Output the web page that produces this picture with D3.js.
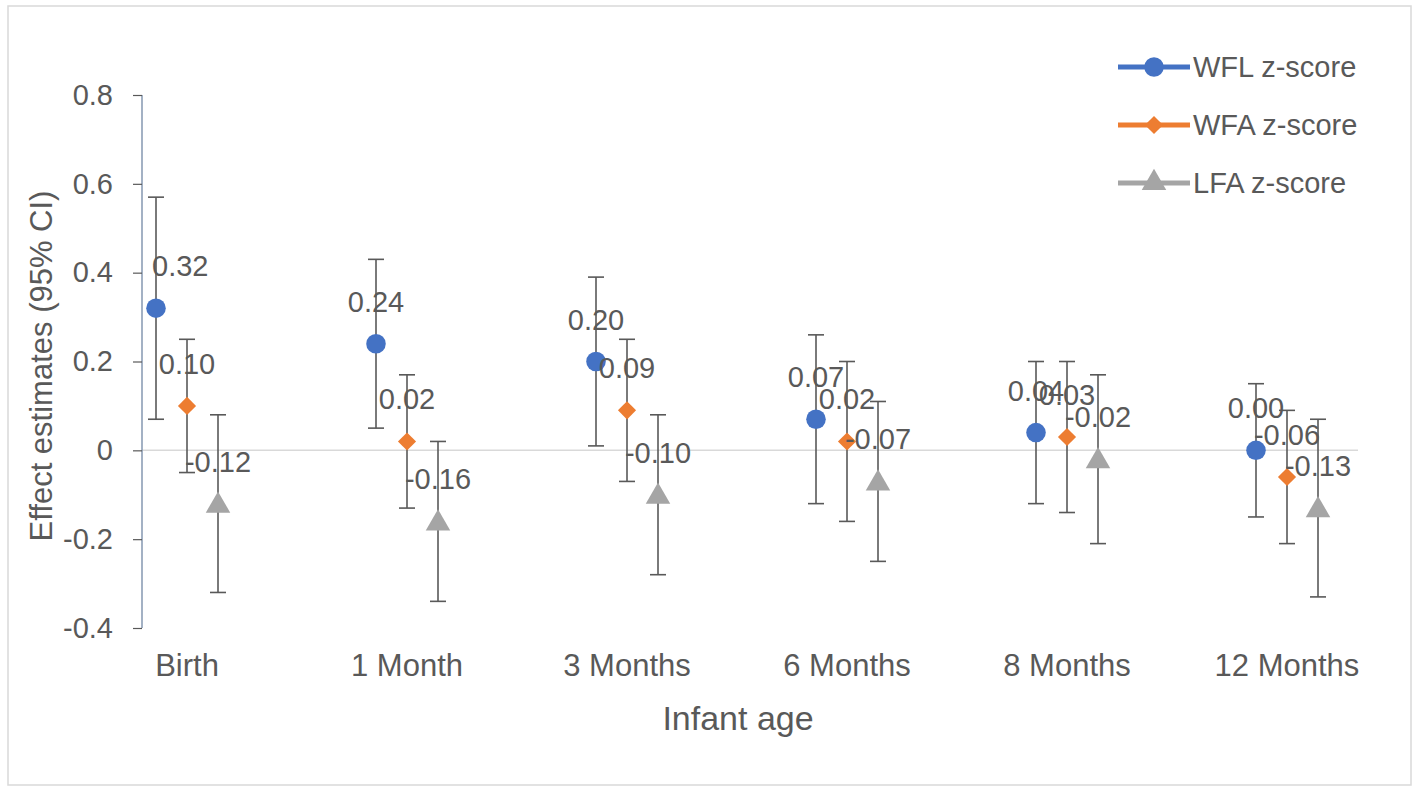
<!DOCTYPE html>
<html>
<head>
<meta charset="utf-8">
<script src="https://cdn.jsdelivr.net/npm/d3@7"></script>
<style>
  body { margin: 0; background: #fff; }
  text { font-family: "Liberation Sans", Arial, sans-serif; }
</style>
</head>
<body>
<script>
// datos
var edades = ["Birth", "1 Month", "3 Months", "6 Months", "8 Months", "12 Months"];
var series = ["WFL z-score", "WFA z-score", "LFA z-score"];

var wflValor = [0.32, 0.24, 0.20, 0.07, 0.04, 0.00];
var wflBajo  = [0.07, 0.05, 0.01, -0.12, -0.12, -0.15];
var wflAlto  = [0.57, 0.43, 0.39, 0.26, 0.20, 0.15];

var wfaValor = [0.10, 0.02, 0.09, 0.02, 0.03, -0.06];
var wfaBajo  = [-0.05, -0.13, -0.07, -0.16, -0.14, -0.21];
var wfaAlto  = [0.25, 0.17, 0.25, 0.20, 0.20, 0.09];

var lfaValor = [-0.12, -0.16, -0.10, -0.07, -0.02, -0.13];
var lfaBajo  = [-0.32, -0.34, -0.28, -0.25, -0.21, -0.33];
var lfaAlto  = [0.08, 0.02, 0.08, 0.11, 0.17, 0.07];

var ticksY = [-0.4, -0.2, 0, 0.2, 0.4, 0.6, 0.8];

var colores = ["#4472C4", "#ED7D31", "#A5A5A5"];
var desplaz = [-31, 0, 31];
var gris = "#595959";

var ancho = 1420, altura = 793;
var ejeXpos = 142, finX = 1358;

var svg = d3.select("body").append("svg")
    .attr("width", ancho)
    .attr("height", altura);

// marco exterior
svg.append("rect")
    .attr("x", 8).attr("y", 6)
    .attr("width", 1403).attr("height", 779)
    .attr("fill", "#fff")
    .attr("stroke", "#D9D9D9")
    .attr("stroke-width", 1.5);

var escalaX = d3.scalePoint().domain(edades).range([187, 1287]);
var escalaY = d3.scaleLinear().domain([-0.4, 0.8]).range([628, 95]);

function numero(d, f) {
    return d3.format(f)(d).replace("\u2212", "-");
}

// linea del cero
svg.append("line")
    .attr("x1", ejeXpos).attr("x2", finX)
    .attr("y1", escalaY(0)).attr("y2", escalaY(0))
    .attr("stroke", "#D9D9D9").attr("stroke-width", 1.5);

// eje Y
var ejeY = svg.append("g")
    .attr("transform", "translate(" + ejeXpos + ",0)")
    .call(d3.axisLeft(escalaY).tickValues(ticksY).tickSize(9).tickPadding(20)
        .tickFormat(function (d) { return d === 0 ? "0" : numero(d, ".1f"); }));
ejeY.select(".domain").attr("stroke", "#8497B0").attr("stroke-width", 1.5)
    .attr("d", "M0," + escalaY(0.8) + "V" + escalaY(-0.4));
ejeY.selectAll(".tick line").attr("stroke", gris).attr("stroke-width", 1.2);
ejeY.selectAll(".tick text").attr("fill", gris).style("font-size", "29px");

// etiquetas del eje X
svg.selectAll(".catlab").data(edades).enter().append("text")
    .attr("x", function (d) { return escalaX(d); })
    .attr("y", 676)
    .attr("text-anchor", "middle")
    .attr("fill", gris)
    .style("font-size", "31px")
    .text(function (d) { return d; });

// titulos
svg.append("text")
    .attr("x", 738).attr("y", 730)
    .attr("text-anchor", "middle")
    .attr("fill", gris)
    .style("font-size", "34px")
    .text("Infant age");

svg.append("text")
    .attr("transform", "translate(52,366) rotate(-90)")
    .attr("text-anchor", "middle")
    .attr("fill", gris)
    .style("font-size", "31px")
    .text("Effect estimates (95% CI)");

var datos = [
    { valor: wflValor, bajo: wflBajo, alto: wflAlto },
    { valor: wfaValor, bajo: wfaBajo, alto: wfaAlto },
    { valor: lfaValor, bajo: lfaBajo, alto: lfaAlto }
];

var simbolos = [d3.symbolCircle, d3.symbolDiamond2, d3.symbolTriangle];
var tamanos = [300, 210, 260];

function marcador(s) {
    return d3.symbol().type(simbolos[s]).size(tamanos[s])();
}

datos.forEach(function (serie, s) {
    var g = svg.append("g");
    var puntos = edades.map(function (e, i) {
        return { x: escalaX(e) + desplaz[s], v: serie.valor[i], lo: serie.bajo[i], hi: serie.alto[i] };
    });

    // barras de error
    var eb = g.selectAll(".eb").data(puntos).enter().append("g");
    eb.append("line")
        .attr("x1", function (d) { return d.x; }).attr("x2", function (d) { return d.x; })
        .attr("y1", function (d) { return escalaY(d.lo); })
        .attr("y2", function (d) { return escalaY(d.hi); })
        .attr("stroke", gris).attr("stroke-width", 1.6);
    ["lo", "hi"].forEach(function (k) {
        eb.append("line")
            .attr("x1", function (d) { return d.x - 8; }).attr("x2", function (d) { return d.x + 8; })
            .attr("y1", function (d) { return escalaY(d[k]); })
            .attr("y2", function (d) { return escalaY(d[k]); })
            .attr("stroke", gris).attr("stroke-width", 1.6);
    });

    // marcadores
    g.selectAll(".pt").data(puntos).enter().append("path")
        .attr("d", marcador(s))
        .attr("transform", function (d) {
            var dy = s === 2 ? 2 : 0;
            return "translate(" + d.x + "," + (escalaY(d.v) + dy) + ")";
        })
        .attr("fill", colores[s]);

    // etiquetas de datos
    g.selectAll(".lab").data(puntos).enter().append("text")
        .attr("x", function (d) { return d.x; })
        .attr("y", function (d) { return escalaY(d.v) - 32; })
        .attr("text-anchor", "middle")
        .attr("fill", gris)
        .style("font-size", "29px")
        .text(function (d) { return numero(d.v, ".2f"); })
        .each(function (d) {
            var w = this.getComputedTextLength();
            if (d.x - w / 2 < ejeXpos + 10) {
                d3.select(this).attr("x", ejeXpos + 10 + w / 2);
            }
        });
});

// leyenda
var leyenda = svg.append("g");
series.forEach(function (nombre, s) {
    var y = 67 + s * 58;
    leyenda.append("line")
        .attr("x1", 1118).attr("x2", 1190)
        .attr("y1", y).attr("y2", y)
        .attr("stroke", colores[s]).attr("stroke-width", 5);
    leyenda.append("path")
        .attr("d", marcador(s))
        .attr("transform", "translate(1154," + y + ")")
        .attr("fill", colores[s]);
    leyenda.append("text")
        .attr("x", 1193).attr("y", y + 10)
        .attr("fill", gris)
        .style("font-size", "29px")
        .text(nombre);
});
</script>
</body>
</html>
